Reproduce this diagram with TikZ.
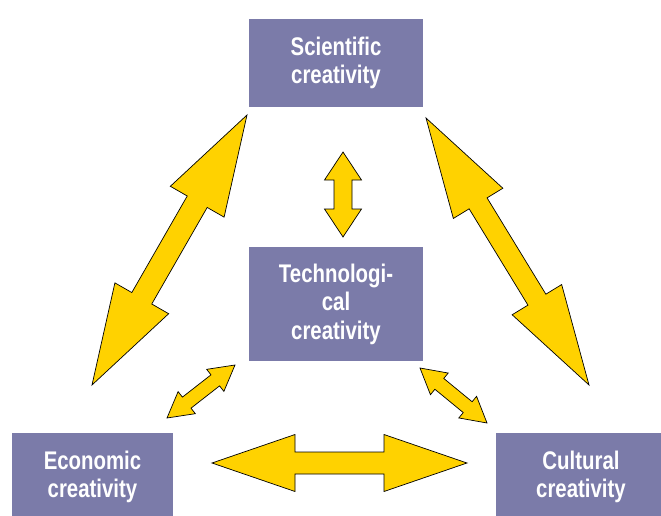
\documentclass[tikz,border=0pt]{standalone}
\usepackage{fontspec}
\setmainfont[FakeStretch=0.8]{Liberation Sans}
\usetikzlibrary{calc}
\definecolor{boxpurple}{HTML}{7B7BA9}
\definecolor{arrowyellow}{HTML}{FFD200}
% fat double arrow: tip, tip, shaft half width, head half width, head length
\def\dblarrow(#1)(#2)(#3:#4:#5){\draw[arrowbody] (#1) -- ($(#1)!#5!(#2)!#4!90:(#2)$) -- ($(#1)!#5!(#2)!#3!90:(#2)$) -- ($(#2)!#5!(#1)!#3!-90:(#1)$) -- ($(#2)!#5!(#1)!#4!-90:(#1)$) -- (#2) -- ($(#2)!#5!(#1)!#4!90:(#1)$) -- ($(#2)!#5!(#1)!#3!90:(#1)$) -- ($(#1)!#5!(#2)!#3!-90:(#2)$) -- ($(#1)!#5!(#2)!#4!-90:(#2)$) -- cycle;}

\begin{document}
\begin{tikzpicture}[x=1pt, y=-1pt,
		creabox/.style={fill=boxpurple, text=white, align=center, inner sep=0pt,
			font=\fontsize{25.5}{28.5}\selectfont\bfseries},
		arrowbody/.style={fill=arrowyellow, draw=black, line width=0.7pt, line join=miter}]
		%%%%% START %%%%%
		
		\useasboundingbox (0, 0) rectangle (661, 516);
		
		\node[creabox, minimum width=174, minimum height=88] (sci) at (336, 63) {Scientific\\creativity};
		\node[creabox, minimum width=174, minimum height=114] (tech) at (336, 304) {Technologi-\\cal\\creativity};
		\node[creabox, minimum width=161, minimum height=88] (eco) at (92.5, 477) {Economic\\creativity};
		\node[creabox, minimum width=170, minimum height=88] (cult) at (581, 477) {Cultural\\creativity};
		
		% arrow tips
		\coordinate (sciL) at (247, 115);
		\coordinate (ecoT) at (92, 385);
		\coordinate (sciR) at (426, 118);
		\coordinate (cultT) at (589, 385);
		\coordinate (sciB) at (343, 152);
		\coordinate (techT) at (343, 237);
		\coordinate (techL) at (235, 365);
		\coordinate (ecoR) at (167, 418);
		\coordinate (techR) at (420, 368);
		\coordinate (cultL) at (487, 423);
		\coordinate (ecoH) at (212, 463);
		\coordinate (cultH) at (467, 463);
		
		\dblarrow(sciL)(ecoT)(11.5pt:31pt:100pt);
		\dblarrow(sciR)(cultT)(10.5pt:29pt:100pt);
		\dblarrow(sciB)(techT)(9pt:18.5pt:28pt);
		\dblarrow(techL)(ecoR)(7pt:14pt:25pt);
		\dblarrow(techR)(cultL)(7pt:14pt:25pt);
		\dblarrow(ecoH)(cultH)(11pt:28.5pt:83pt);
		
		%%%%% END %%%%%
	\end{tikzpicture}
\end{document}
